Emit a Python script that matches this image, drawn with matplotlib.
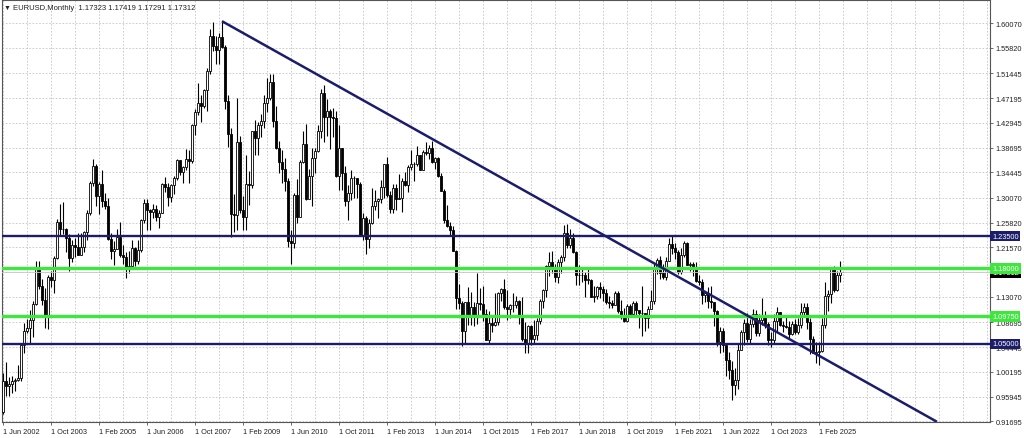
import numpy as np
import matplotlib
matplotlib.use('Agg')
import matplotlib.pyplot as plt
from matplotlib.patches import Rectangle
import matplotlib.transforms as mtransforms

plt.rcParams['font.family'] = ['Liberation Sans', 'DejaVu Sans']

# monthly EURUSD bars, first bar = Jun 2002, last = Oct 2025
first_open = 0.9330
closes = [
    0.9870, 0.9780, 0.9810, 0.9870, 0.9890, 0.9920, 1.0490,  # 2002
    1.0730, 1.0780, 1.0910, 1.1180, 1.1800, 1.1490, 1.1250, 1.0980, 1.1650, 1.1590, 1.1980, 1.2590,  # 2003
    1.2470, 1.2480, 1.2310, 1.1970, 1.2200, 1.2170, 1.2030, 1.2170, 1.2420, 1.2750, 1.3270, 1.3560,  # 2004
    1.3040, 1.3250, 1.2960, 1.2870, 1.2300, 1.2100, 1.2130, 1.2340, 1.2030, 1.1990, 1.1790, 1.1840,  # 2005
    1.2150, 1.1920, 1.2120, 1.2620, 1.2920, 1.2790, 1.2760, 1.2810, 1.2680, 1.2740, 1.3250, 1.3200,  # 2006
    1.3020, 1.3230, 1.3350, 1.3650, 1.3450, 1.3530, 1.3680, 1.3640, 1.4260, 1.4480, 1.4630, 1.4590,  # 2007
    1.4860, 1.5180, 1.5790, 1.5620, 1.5550, 1.5760, 1.5600, 1.4670, 1.4100, 1.2730, 1.2710, 1.3970,  # 2008
    1.2800, 1.2670, 1.3250, 1.3230, 1.4150, 1.4030, 1.4250, 1.4330, 1.4640, 1.4720, 1.5000, 1.4330,  # 2009
    1.3860, 1.3630, 1.3510, 1.3290, 1.2270, 1.2240, 1.3050, 1.2680, 1.3630, 1.3930, 1.2980, 1.3380,  # 2010
    1.3690, 1.3810, 1.4160, 1.4810, 1.4390, 1.4500, 1.4390, 1.4380, 1.3390, 1.3860, 1.3440, 1.2960,  # 2011
    1.3090, 1.3340, 1.3340, 1.3240, 1.2360, 1.2660, 1.2300, 1.2580, 1.2860, 1.2960, 1.2990, 1.3190,  # 2012
    1.3580, 1.3060, 1.2820, 1.3170, 1.2990, 1.3010, 1.3300, 1.3220, 1.3530, 1.3580, 1.3590, 1.3750,  # 2013
    1.3490, 1.3800, 1.3770, 1.3870, 1.3630, 1.3690, 1.3390, 1.3130, 1.2630, 1.2520, 1.2450, 1.2100,  # 2014
    1.1290, 1.1200, 1.0730, 1.1220, 1.0990, 1.1140, 1.0980, 1.1210, 1.1180, 1.1010, 1.0570, 1.0860,  # 2015
    1.0830, 1.0870, 1.1380, 1.1450, 1.1130, 1.1100, 1.1170, 1.1160, 1.1240, 1.0980, 1.0590, 1.0520,  # 2016
    1.0800, 1.0580, 1.0650, 1.0900, 1.1240, 1.1430, 1.1840, 1.1910, 1.1810, 1.1650, 1.1900, 1.2000,  # 2017
    1.2410, 1.2190, 1.2320, 1.2080, 1.1690, 1.1680, 1.1690, 1.1600, 1.1600, 1.1310, 1.1320, 1.1470,  # 2018
    1.1450, 1.1370, 1.1220, 1.1210, 1.1170, 1.1370, 1.1070, 1.0990, 1.0900, 1.1150, 1.1020, 1.1210,  # 2019
    1.1090, 1.1030, 1.1030, 1.0950, 1.1100, 1.1230, 1.1780, 1.1940, 1.1720, 1.1650, 1.1930, 1.2210,  # 2020
    1.2140, 1.2070, 1.1730, 1.2020, 1.2230, 1.1860, 1.1870, 1.1810, 1.1580, 1.1560, 1.1340, 1.1370,  # 2021
    1.1230, 1.1220, 1.1070, 1.0540, 1.0730, 1.0480, 1.0220, 1.0050, 0.9800, 0.9880, 1.0400, 1.0700,  # 2022
    1.0860, 1.0580, 1.0840, 1.1020, 1.0690, 1.0910, 1.0990, 1.0840, 1.0570, 1.0570, 1.0890, 1.1040,  # 2023
    1.0820, 1.0810, 1.0790, 1.0670, 1.0850, 1.0710, 1.0820, 1.1050, 1.1140, 1.0880, 1.0580, 1.0350,  # 2024
    1.0360, 1.0380, 1.0820, 1.1330, 1.1350, 1.1790, 1.1420, 1.1685, 1.17323, 1.17312,  # 2025
]
highs = [
    0.9999, 1.0190, 0.9930, 0.9950, 0.9920, 1.0140, 1.0500,
    1.0860, 1.0930, 1.1080, 1.1230, 1.1930, 1.1930, 1.1620, 1.1460, 1.1680, 1.1760, 1.2010, 1.2650,
    1.2900, 1.2930, 1.2490, 1.2390, 1.2280, 1.2320, 1.2400, 1.2400, 1.2430, 1.2800, 1.3300, 1.3670,
    1.3580, 1.3280, 1.3480, 1.3090, 1.3000, 1.2400, 1.2260, 1.2470, 1.2590, 1.2200, 1.2080, 1.2090,
    1.2290, 1.2160, 1.2280, 1.2640, 1.2980, 1.2980, 1.2820, 1.2900, 1.2890, 1.2790, 1.3270, 1.3370,
    1.3270, 1.3250, 1.3380, 1.3680, 1.3640, 1.3550, 1.3850, 1.3830, 1.4280, 1.4530, 1.4970, 1.4770,
    1.4880, 1.5230, 1.5910, 1.6020, 1.5790, 1.5840, 1.6040, 1.5630, 1.4780, 1.4200, 1.3080, 1.4720,
    1.4070, 1.3040, 1.3740, 1.3470, 1.4150, 1.4340, 1.4310, 1.4440, 1.4780, 1.5060, 1.5140, 1.5140,
    1.4580, 1.3990, 1.3820, 1.3690, 1.3340, 1.2460, 1.3090, 1.3330, 1.3650, 1.4160, 1.4280, 1.3500,
    1.3860, 1.3860, 1.4250, 1.4880, 1.4940, 1.4700, 1.4530, 1.4550, 1.4500, 1.4250, 1.3870, 1.3550,
    1.3230, 1.3480, 1.3390, 1.3330, 1.3280, 1.2750, 1.2690, 1.2640, 1.3170, 1.3140, 1.3010, 1.3310,
    1.3580, 1.3710, 1.3120, 1.3240, 1.3240, 1.3420, 1.3350, 1.3450, 1.3570, 1.3830, 1.3620, 1.3890,
    1.3740, 1.3820, 1.3970, 1.3910, 1.3990, 1.3700, 1.3700, 1.3440, 1.3160, 1.2890, 1.2600, 1.2530,
    1.2110, 1.1530, 1.1240, 1.1220, 1.1470, 1.1390, 1.1220, 1.1710, 1.1460, 1.1500, 1.1100, 1.1060,
    1.0990, 1.1380, 1.1390, 1.1460, 1.1620, 1.1430, 1.1190, 1.1370, 1.1330, 1.1260, 1.1300, 1.0880,
    1.0830, 1.0830, 1.0910, 1.0950, 1.1270, 1.1450, 1.1850, 1.2070, 1.2090, 1.1880, 1.1960, 1.2020,
    1.2540, 1.2560, 1.2480, 1.2410, 1.2100, 1.1850, 1.1790, 1.1730, 1.1820, 1.1620, 1.1500, 1.1490,
    1.1570, 1.1490, 1.1450, 1.1320, 1.1260, 1.1410, 1.1410, 1.1250, 1.1110, 1.1180, 1.1180, 1.1240,
    1.1240, 1.1050, 1.1500, 1.1000, 1.1150, 1.1420, 1.1910, 1.1970, 1.2010, 1.1880, 1.2000, 1.2310,
    1.2350, 1.2240, 1.2110, 1.2150, 1.2270, 1.2250, 1.1900, 1.1910, 1.1910, 1.1690, 1.1610, 1.1390,
    1.1480, 1.1500, 1.1190, 1.1090, 1.0790, 1.0770, 1.0490, 1.0370, 1.0200, 1.0090, 1.0500, 1.0740,
    1.0930, 1.1030, 1.0930, 1.1100, 1.1090, 1.1010, 1.1280, 1.1070, 1.0880, 1.0700, 1.1020, 1.1140,
    1.1050, 1.0900, 1.0980, 1.0890, 1.0890, 1.0920, 1.0950, 1.1200, 1.1210, 1.1210, 1.0940, 1.0630,
    1.0530, 1.0530, 1.0950, 1.1570, 1.1420, 1.1800, 1.1830, 1.1750, 1.1920, 1.17419,
]
lows = [
    0.9290, 0.9610, 0.9610, 0.9660, 0.9690, 0.9860, 0.9860,
    1.0340, 1.0690, 1.0500, 1.0620, 1.1160, 1.1450, 1.1170, 1.0770, 1.0760, 1.1480, 1.1380, 1.1950,
    1.2350, 1.2390, 1.2080, 1.1760, 1.1900, 1.2000, 1.2020, 1.2030, 1.2070, 1.2280, 1.2710, 1.3210,
    1.2860, 1.2730, 1.2850, 1.2820, 1.2290, 1.1950, 1.1860, 1.2130, 1.2000, 1.1880, 1.1640, 1.1710,
    1.1800, 1.1830, 1.1880, 1.2070, 1.2580, 1.2460, 1.2460, 1.2660, 1.2610, 1.2490, 1.2740, 1.3100,
    1.2860, 1.2940, 1.3080, 1.3310, 1.3400, 1.3270, 1.3480, 1.3260, 1.3600, 1.4080, 1.4430, 1.4300,
    1.4540, 1.4500, 1.5140, 1.5530, 1.5300, 1.5300, 1.5580, 1.4530, 1.3880, 1.2330, 1.2420, 1.2450,
    1.2750, 1.2460, 1.2460, 1.2890, 1.3170, 1.3740, 1.3750, 1.4050, 1.4210, 1.4480, 1.4690, 1.4220,
    1.3850, 1.3440, 1.3270, 1.3120, 1.2160, 1.1880, 1.2150, 1.2580, 1.2690, 1.3600, 1.2970, 1.3000,
    1.2860, 1.3430, 1.3800, 1.4040, 1.3970, 1.4070, 1.3840, 1.4050, 1.3360, 1.3140, 1.3140, 1.2860,
    1.2620, 1.2970, 1.3000, 1.3000, 1.2350, 1.2290, 1.2040, 1.2140, 1.2560, 1.2800, 1.2660, 1.2920,
    1.3000, 1.3020, 1.2750, 1.2740, 1.2800, 1.2990, 1.2760, 1.3210, 1.3100, 1.3490, 1.3300, 1.3550,
    1.3480, 1.3480, 1.3750, 1.3670, 1.3600, 1.3500, 1.3370, 1.3120, 1.2570, 1.2500, 1.2360, 1.2090,
    1.1100, 1.1100, 1.0460, 1.0520, 1.0820, 1.0820, 1.0810, 1.0850, 1.1090, 1.0900, 1.0560, 1.0520,
    1.0710, 1.0810, 1.0820, 1.1230, 1.1100, 1.0910, 1.0950, 1.1050, 1.1120, 1.0850, 1.0550, 1.0350,
    1.0340, 1.0490, 1.0500, 1.0570, 1.0840, 1.1120, 1.1310, 1.1660, 1.1720, 1.1570, 1.1550, 1.1720,
    1.1920, 1.2150, 1.2150, 1.2060, 1.1510, 1.1510, 1.1570, 1.1300, 1.1530, 1.1300, 1.1220, 1.1270,
    1.1290, 1.1230, 1.1180, 1.1110, 1.1110, 1.1180, 1.1030, 1.0930, 1.0880, 1.0880, 1.0980, 1.0980,
    1.0990, 1.0780, 1.0640, 1.0730, 1.0770, 1.1100, 1.1190, 1.1700, 1.1610, 1.1620, 1.1600, 1.1920,
    1.2050, 1.1950, 1.1700, 1.1700, 1.1990, 1.1850, 1.1750, 1.1660, 1.1560, 1.1520, 1.1190, 1.1220,
    1.1120, 1.1110, 1.0810, 1.0470, 1.0350, 1.0360, 0.9950, 0.9900, 0.9540, 0.9630, 0.9730, 1.0390,
    1.0480, 1.0530, 1.0520, 1.0790, 1.0640, 1.0630, 1.0830, 1.0770, 1.0490, 1.0450, 1.0520, 1.0720,
    1.0800, 1.0700, 1.0770, 1.0600, 1.0650, 1.0670, 1.0670, 1.0780, 1.0990, 1.0760, 1.0330, 1.0340,
    1.0180, 1.0140, 1.0360, 1.0780, 1.1060, 1.1210, 1.1390, 1.1400, 1.1570, 1.17291,
]

date_labels = ['1 Jun 2002', '1 Oct 2003', '1 Feb 2005', '1 Jun 2006', '1 Oct 2007',
               '1 Feb 2009', '1 Jun 2010', '1 Oct 2011', '1 Feb 2013', '1 Jun 2014',
               '1 Oct 2015', '1 Feb 2017', '1 Jun 2018', '1 Oct 2019', '1 Feb 2021',
               '1 Jun 2022', '1 Oct 2023', '1 Feb 2025']
price_ticks = [1.60070, 1.55820, 1.51445, 1.47195, 1.42945, 1.38695, 1.34445, 1.30070,
               1.25820, 1.21570, 1.17320, 1.13070, 1.08695, 1.04445, 1.00195, 0.95945, 0.91695]
hidden_ticks = [1.17320]          # covered by the current price box

resistance = [1.2350, 1.0500]     # navy levels
support = [1.1800, 1.0975]        # green levels
trend_x = [73, 311.3]             # bar index of Jul 2008 high -> projected
trend_y = [1.6038, 0.9165]
last_price = 1.17312
header = 'EURUSD,Monthly  1.17323 1.17419 1.17291 1.17312'

navy = '#1c1c6c'
green = '#3ee63e'
grid_c = '#c4c4c4'

opens = [first_open] + closes[:-1]
n = len(closes)
idx = np.arange(n)

fig = plt.figure(figsize=(10.24, 4.39), dpi=100)
W, H = 1024, 439
ax = fig.add_axes([2 / W, (H - 423) / H, 988 / W, 422 / H])
ax.set_xlim(-1 / 3, 329)
ax.set_ylim(0.91608, 1.64017)

# grid
for gx in range(0, 330, 8):
    ax.axvline(gx, color=grid_c, lw=0.6, ls=(0, (2, 2)), zorder=0)
for gy in price_ticks:
    ax.axhline(gy, color=grid_c, lw=0.6, ls=(0, (2, 2)), zorder=0)

# candles
bw = 0.62
for i in idx:
    o, h, l, c = opens[i], highs[i], lows[i], closes[i]
    ax.plot([i, i], [l, h], color='black', lw=0.8, zorder=2, solid_capstyle='butt')
    lo, hi = min(o, c), max(o, c)
    fc = 'white' if c >= o else 'black'
    ax.add_patch(Rectangle((i - bw / 2, lo), bw, max(hi - lo, 0.0008),
                           facecolor=fc, edgecolor='black', lw=0.6, zorder=3))

# levels
for lvl in resistance:
    ax.axhline(lvl, color=navy, lw=1.7, zorder=4)
for lvl in support:
    ax.axhline(lvl, color=green, lw=2.4, zorder=4)
ax.axhline(last_price, color='#c8c8c8', lw=0.6, zorder=3.5)
ax.plot(trend_x, trend_y, color=navy, lw=1.8, zorder=5, solid_capstyle='butt')

# axes styling
for s in ax.spines.values():
    s.set_color('#555555')
    s.set_linewidth(0.8)
ax.yaxis.tick_right()
ax.set_yticks(price_ticks)
ax.set_yticklabels(['' if v in hidden_ticks else '%.5f' % v for v in price_ticks])
ax.set_xticks(np.arange(0, 16 * len(date_labels), 16))
ax.set_xticklabels(date_labels)
ax.tick_params(axis='both', which='major', labelsize=5.3, length=2.5, width=0.6,
               color='#555555', labelcolor='#222222', pad=1.5)
plt.setp(ax.get_xticklabels(), ha='left')

# price boxes on the right axis
trans = mtransforms.blended_transform_factory(ax.transAxes, ax.transData)
for lvl in resistance:
    ax.text(1.0 + 2 / 988, lvl, '%.5f' % lvl, transform=trans, ha='left', va='center',
            fontsize=5.3, color='white', zorder=10, clip_on=False,
            bbox=dict(boxstyle='square,pad=0.25', facecolor=navy, edgecolor='none'))
for lvl in support:
    ax.text(1.0 + 2 / 988, lvl, '%.5f' % lvl, transform=trans, ha='left', va='center',
            fontsize=5.3, color='white', zorder=10, clip_on=False,
            bbox=dict(boxstyle='square,pad=0.25', facecolor=green, edgecolor='none'))
ax.text(1.0 + 2 / 988, last_price, '%.5f' % last_price, transform=trans, ha='left',
        va='center', fontsize=5.3, color='white', zorder=9, clip_on=False,
        bbox=dict(boxstyle='square,pad=0.25', facecolor='black', edgecolor='none'))

fig.text(4 / W, 1 - 8 / H, '\u25bc', fontsize=5, va='center', ha='left', color='#222222')
fig.text(13 / W, 1 - 8 / H, header, fontsize=5.5, va='center', ha='left', color='#222222')

fig.savefig('out.png', dpi=100)
